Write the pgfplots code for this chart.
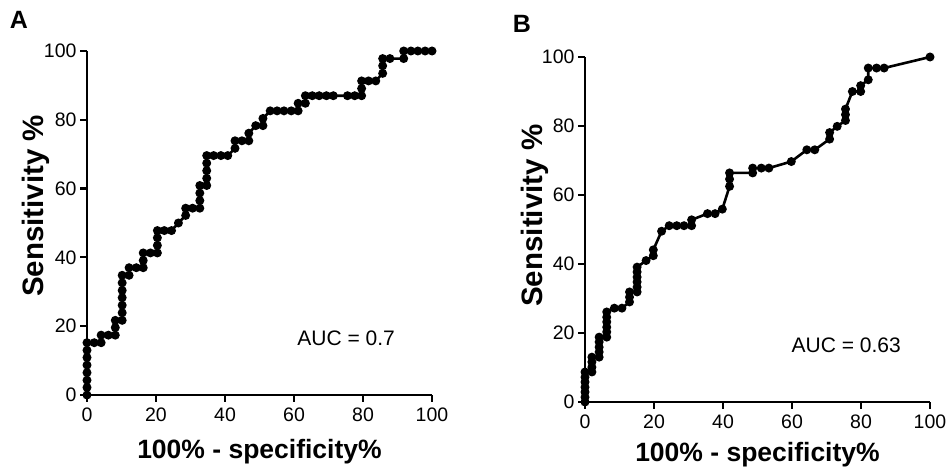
\documentclass[border=0pt]{standalone}
\usepackage{fontspec}
\setmainfont{Liberation Sans}
\usepackage{pgfplots}
\pgfplotsset{compat=1.18}

\pgfplotsset{
  roc/.style={
    scale only axis, width=345pt, height=344pt,
    xmin=0, xmax=100, ymin=0, ymax=100,
    axis x line*=bottom, axis y line*=left,
    axis line style={line width=2.5pt},
    xtick={0,20,...,100}, ytick={0,20,...,100},
    tick align=outside, major tick length=7pt,
    every tick/.style={black, line width=2.2pt},
    tick label style={font=\fontsize{19.5}{23}\selectfont},
    xticklabel style={yshift=-2pt},
    /pgf/number format/assume math mode=true,
    xlabel style={font=\bfseries\fontsize{26.5}{31}\selectfont},
    ylabel style={font=\bfseries\fontsize{29.5}{34}\selectfont},
    xlabel={100\% - specificity\%}, ylabel={Sensitivity \%},
    clip=false,
  },
  rocline/.style={black, line width=2.6pt, mark=*, mark size=3.1pt, mark options={solid}},
}

\begin{document}
\begin{tikzpicture}
\path[use as bounding box] (0,0) rectangle (949pt,468pt);

% panel A
\begin{axis}[roc, at={(87pt,73pt)}, anchor=south west,
  xlabel style={at={(axis description cs:0.5,0)}, anchor=center, yshift=-57pt},
  ylabel style={at={(axis description cs:0,0.55)}, anchor=center, yshift=51pt}]
\addplot[rocline] coordinates {
(0,0)(0,2.2)(0,4.3)(0,6.5)(0,8.7)(0,10.9)(0,13.0)(0,15.2)
(2.1,15.2)(4.1,15.2)(4.1,17.4)(6.2,17.4)(8.2,17.4)(8.2,19.6)(8.2,21.7)
(10.2,21.7)(10.2,23.9)(10.2,26.1)(10.2,28.3)(10.2,30.4)(10.2,32.6)(10.2,34.8)
(12.2,34.8)(12.2,37.0)(14.3,37.0)(16.3,37.0)(16.3,39.1)(16.3,41.3)
(18.4,41.3)(20.4,41.3)(20.4,43.5)(20.4,45.7)(20.4,47.8)(22.4,47.8)(24.5,47.8)
(26.5,50.0)(28.6,52.2)(28.6,54.3)(30.6,54.3)(32.7,54.3)(32.7,56.5)(32.7,58.7)(32.7,60.9)
(34.7,60.9)(34.7,63.0)(34.7,65.2)(34.7,67.4)(34.7,69.6)(36.7,69.6)(38.8,69.6)(40.8,69.6)
(42.9,71.7)(42.9,73.9)(44.9,73.9)(46.9,73.9)(46.9,76.1)(48.9,78.3)(51.0,78.3)(51.0,80.4)
(53.1,82.6)(55.1,82.6)(57.1,82.6)(59.2,82.6)(61.2,82.6)(61.2,84.8)(63.3,84.8)(63.3,87.0)
(65.3,87.0)(67.3,87.0)(69.4,87.0)(71.4,87.0)(75.5,87.0)(77.6,87.0)(79.6,87.0)
(79.6,89.1)(79.6,91.3)(81.6,91.3)(83.7,91.3)(85.7,93.5)(85.7,95.7)(85.7,97.8)
(87.8,97.8)(91.8,97.8)(91.8,100)(93.9,100)(95.9,100)(98.0,100)(100,100)
};
\node[font=\fontsize{21}{25}\selectfont] at (axis cs:75.1,16.6) {AUC = 0.7};
\end{axis}

% panel B
\begin{axis}[roc, height=345pt, at={(585pt,66pt)}, anchor=south west,
  xlabel style={at={(axis description cs:0.5,0)}, anchor=center, yshift=-53pt},
  ylabel style={at={(axis description cs:0,0.54)}, anchor=center, yshift=50pt}]
\addplot[rocline] coordinates {
(0,0)(0,1.4)(0,2.9)(0,4.3)(0,5.8)(0,7.2)(0,8.7)
(2.0,8.7)(2.0,10.1)(2.0,11.6)(2.0,13.0)(4.1,13.0)(4.1,14.5)(4.1,15.9)(4.1,17.4)(4.1,18.8)
(6.3,18.8)(6.3,20.3)(6.3,21.7)(6.3,23.2)(6.3,24.6)(6.3,26.1)(8.5,27.2)(10.7,27.2)
(12.9,29.0)(12.9,30.4)(12.9,31.9)(15.1,31.9)(15.1,33.3)(15.1,34.8)(15.1,36.2)(15.1,37.7)(15.1,39.1)
(17.7,41.0)(19.8,42.4)(19.8,44.1)(22.2,49.5)(24.4,51.1)(26.6,51.1)(28.7,51.1)(30.9,51.1)(30.9,52.8)
(35.5,54.6)(37.7,54.6)(39.8,55.9)(41.9,62.5)(41.9,64.6)(41.9,66.4)(48.6,66.4)(48.6,67.8)
(51.1,67.8)(53.3,67.8)(59.8,69.7)(64.3,73.1)(66.6,73.1)(70.9,76.2)(70.9,78.1)(73.1,79.9)
(75.5,81.6)(75.5,83.3)(75.5,84.9)(77.5,90.0)(79.9,90.0)(79.9,91.7)(82.1,93.4)(82.1,96.8)
(84.5,96.8)(86.7,96.8)(100,100)
};
\node[font=\fontsize{21}{25}\selectfont] at (axis cs:75.7,16.5) {AUC = 0.63};
\end{axis}

\node[font=\bfseries\fontsize{25}{30}\selectfont] at (19pt,448pt) {A};
\node[font=\bfseries\fontsize{25}{30}\selectfont] at (522pt,444pt) {B};
\end{tikzpicture}
\end{document}
